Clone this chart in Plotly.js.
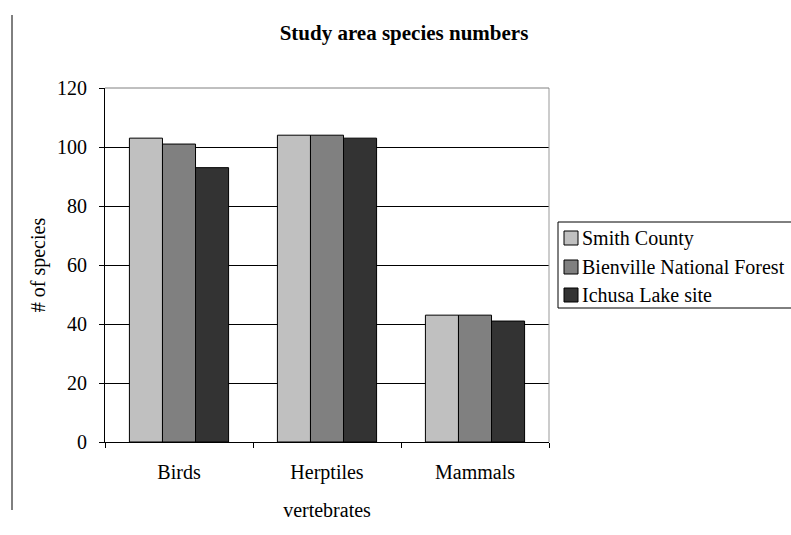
<!DOCTYPE html>
<html><head><meta charset="utf-8">
<script src="https://cdn.plot.ly/plotly-3.0.1.min.js"></script>
<style>body{margin:0;background:#fff}#c{width:791px;height:535px}</style>
</head><body><div id="c"></div>
<script>
var categories = ["Birds", "Herptiles", "Mammals"];
var seriesNames = ["Smith County", "Bienville National Forest", "Ichusa Lake site"];
var smithCounty = [103, 104, 43];
var bienville = [101, 104, 43];
var ichusa = [93, 103, 41];
var colors = ["#C0C0C0", "#808080", "#333333"];
var yTicks = [0, 20, 40, 60, 80, 100, 120];

var F = "Liberation Serif, DejaVu Serif, serif";
var W = 791, H = 535, ML = 105, MR = 242, MT = 88, MB = 93;
var PW = W - ML - MR, PH = H - MT - MB;
function px(x) { return (x - ML) / PW; }
function py(y) { return (H - MB - y) / PH; }

var values = [smithCounty, bienville, ichusa];
var traces = values.map(function (v, i) {
  return {
    type: "bar", x: categories, y: v, name: seriesNames[i], showlegend: false,
    marker: {color: colors[i], line: {color: "#000", width: 1}}
  };
});

var shapes = [
  {type: "line", xref: "paper", yref: "paper", x0: 1, x1: 1, y0: 0, y1: 1, line: {color: "#999", width: 1}},
  {type: "line", xref: "paper", yref: "paper", x0: 0, x1: 1, y0: 1, y1: 1, line: {color: "#808080", width: 1}},
  {type: "line", xref: "paper", yref: "paper", x0: px(12), x1: px(12), y0: py(510), y1: py(15), line: {color: "#000", width: 1}},
  {type: "rect", xref: "paper", yref: "paper", x0: px(558), x1: px(805), y0: py(308), y1: py(222), line: {color: "#000", width: 1}, fillcolor: "#fff"}
];
var annotations = [];
var rowY = [238, 267, 295];
seriesNames.forEach(function (n, i) {
  shapes.push({type: "rect", xref: "paper", yref: "paper", x0: px(564), x1: px(578), y0: py(rowY[i] + 7), y1: py(rowY[i] - 7),
    line: {color: "#000", width: 1}, fillcolor: colors[i]});
  annotations.push({xref: "paper", yref: "paper", x: px(580), y: py(rowY[i]), xanchor: "left", yanchor: "middle",
    text: n, showarrow: false, font: {family: F, size: 20, color: "#000"}});
});

var layout = {
  width: W, height: H,
  margin: {l: ML, r: MR, t: MT, b: MB},
  paper_bgcolor: "#fff", plot_bgcolor: "#fff",
  font: {family: F, size: 20, color: "#000"},
  title: {text: "<b>Study area species numbers</b>", font: {family: F, size: 21}, xref: "paper", x: px(404), xanchor: "center", yref: "container", y: 1 - 33 / H, yanchor: "middle"},
  barmode: "group", bargap: 0.33, bargroupgap: 0,
  showlegend: false,
  xaxis: {
    showline: true, linecolor: "#000", linewidth: 1,
    ticks: "outside", tickson: "boundaries", ticklen: 5, tickcolor: "#000",
    ticklabelstandoff: 12,
    title: {text: "vertebrates", font: {family: F, size: 20}, standoff: 19},
    tickfont: {family: F, size: 20}
  },
  yaxis: {
    range: [0, 120], tickvals: yTicks, showline: true, linecolor: "#000", linewidth: 1,
    ticks: "outside", ticklen: 5, tickcolor: "#000", ticklabelstandoff: 8,
    showgrid: true, gridcolor: "#000", gridwidth: 1, zeroline: false,
    title: {text: "# of species", font: {family: F, size: 20}, standoff: 6},
    tickfont: {family: F, size: 20}
  },
  shapes: shapes,
  annotations: annotations
};
Plotly.newPlot("c", traces, layout, {displayModeBar: false});
</script></body></html>
